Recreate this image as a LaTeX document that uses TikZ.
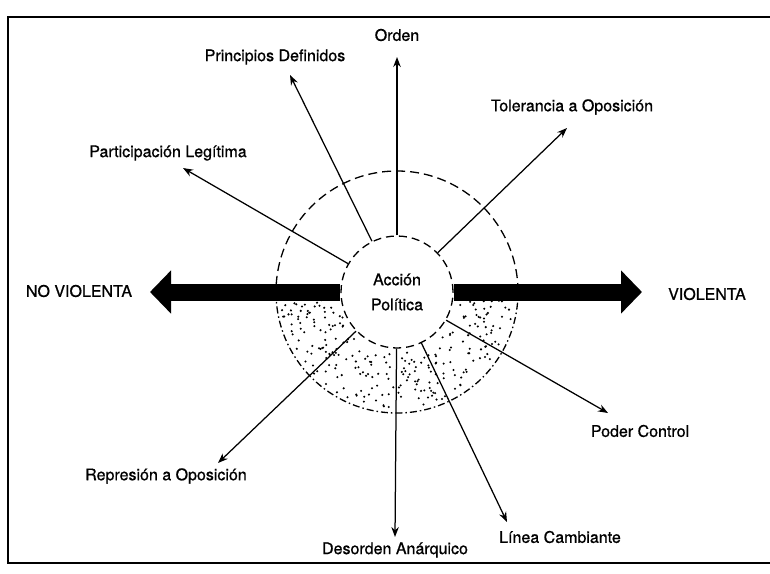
\documentclass[tikz,border=0pt]{standalone}
\usepackage{fontspec}
\setmainfont{TeX Gyre Heros}[FakeBold=0.8]
\usetikzlibrary{arrows.meta}
\tikzset{
    > = {Stealth[length=10pt,width=7.5pt]},
    lbl/.style = {font=\fontsize{16}{18}\selectfont, inner sep=1pt},
    ray/.style = {->, line width=1.25pt},
    band/.style = {line width=17pt, -{Triangle[length=21pt,width=42pt]}},
    hub/.style = {circle, draw, dash pattern=on 8pt off 5pt, line width=1.3pt,
        minimum size=112pt, inner sep=0pt, align=center,
        font=\fontsize{16}{25}\selectfont}
}

\begin{document}
\begin{tikzpicture}[x=1pt, y=-1pt]
    \useasboundingbox (0,0) rectangle (770,573);
    \draw[line width=2pt] (770,17) -- (8,17) -- (8,563) -- (770,563);

    \node[hub] (ap) at (397,292) {Acción\\Política};

    % stipple in the lower half ring
    \pgfmathsetseed{42}
    \foreach \k in {1,...,270}{
        \pgfmathsetmacro\ang{180+180*rnd}
        \pgfmathsetmacro\rad{sqrt(3600+10100*rnd)}
        \fill (ap.center) ++(\ang:\rad pt) circle[radius=1.15pt];
    }
    \draw[line width=1.3pt, dash pattern=on 9pt off 5pt]
        (ap.center) ++(0:121pt) arc[start angle=0, end angle=180, radius=121pt];
    \draw[line width=1.3pt, dash pattern=on 7pt off 3pt on 1.5pt off 3pt]
        (ap.center) ++(180:121pt) arc[start angle=180, end angle=360, radius=121pt];

    \coordinate (nvTip) at (150,292);
    \coordinate (vTip) at (642,292);
    \draw[band] (ap.west) -- (nvTip);
    \draw[band] (ap.east) -- (vTip);
    \node[lbl] (noviol) at (79,291) {NO VIOLENTA};
    \node[lbl] (viol) at (707,294) {VIOLENTA};

    \node[lbl] (orden) at (397,35) {Orden};
    \node[lbl] (princ) at (275,57) {Principios Definidos};
    \node[lbl] (toler) at (572,107) {Tolerancia a Oposición};
    \node[lbl] (partic) at (168,153) {Participación Legítima};
    \node[lbl] (poder) at (640,431) {Poder Control};
    \node[lbl] (linea) at (560,537) {Línea Cambiante};
    \node[lbl] (desor) at (395,550) {Desorden Anárquico};
    \node[lbl] (repre) at (166,476) {Represión a Oposición};

    \coordinate (oTip) at (397,57);
    \coordinate (pTip) at (290,75);
    \coordinate (tTip) at (567,128);
    \coordinate (lTip) at (183,168);
    \coordinate (cTip) at (608,413);
    \coordinate (iTip) at (507,522);
    \coordinate (dTip) at (395,537);
    \coordinate (rTip) at (218,463);

    \draw[ray] (ap) -- (oTip);
    \draw[ray] (ap) -- (pTip);
    \draw[ray] (ap) -- (tTip);
    \draw[ray] (ap) -- (lTip);
    \draw[ray] (ap) -- (cTip);
    \draw[ray] (ap) -- (iTip);
    \draw[ray] (ap) -- (dTip);
    \draw[ray] (ap) -- (rTip);
\end{tikzpicture}
\end{document}
